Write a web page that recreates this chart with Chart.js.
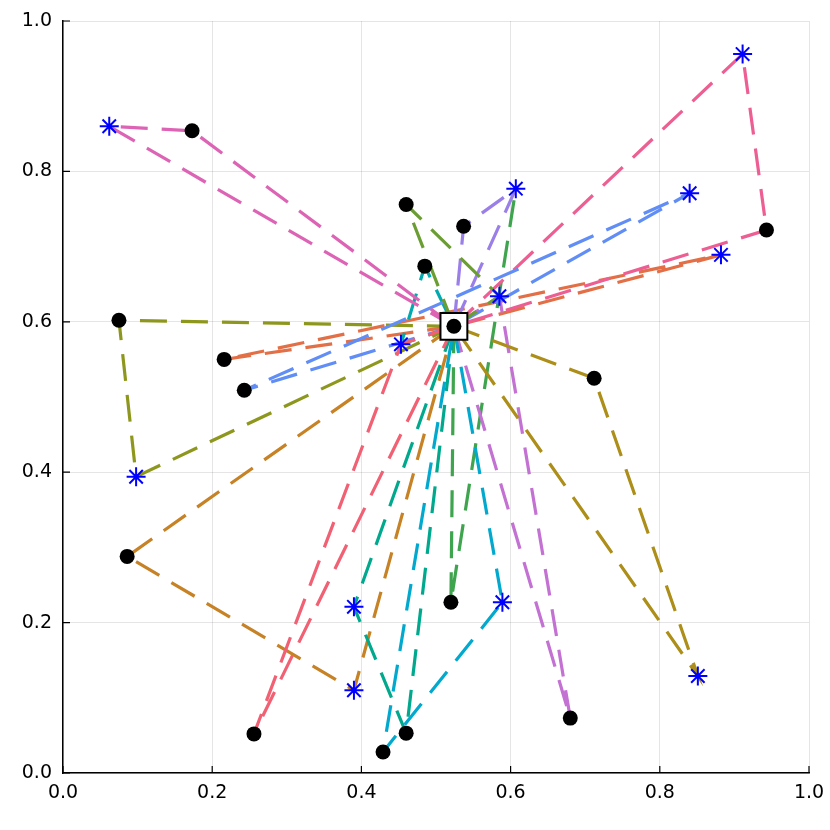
<!DOCTYPE html>
<html>
<head>
<meta charset="utf-8">
<script src="https://cdn.jsdelivr.net/npm/chart.js"></script>
<style>
    html, body { margin:0; padding:0; background:#fff; }
    canvas { display:block; }
</style>
</head>
<body>
<canvas id="routeChart" width="830" height="830"></canvas>
<script>
// depot (white square)
var depotX = [0.524];
var depotY = [0.594];

// customers (black dots)
var custX = [0.173, 0.075, 0.216, 0.243, 0.086, 0.256, 0.429, 0.460, 0.520, 0.680, 0.712, 0.943, 0.537, 0.460, 0.485];
var custY = [0.854, 0.602, 0.550, 0.509, 0.288, 0.052, 0.028, 0.053, 0.227, 0.073, 0.525, 0.722, 0.727, 0.756, 0.674];

// stations (blue stars)
var stationX = [0.062, 0.098, 0.390, 0.390, 0.453, 0.589, 0.851, 0.882, 0.911, 0.840, 0.607, 0.585];
var stationY = [0.860, 0.394, 0.110, 0.221, 0.570, 0.227, 0.129, 0.689, 0.956, 0.771, 0.777, 0.634];

// routes: D = depot, Cn = customer n, Sn = station n
var routes = [
    ['D', 'C2', 'S7', 'D'],
    ['D', 'C8', 'S10'],
    ['D', 'C9', 'S11', 'D'],
    ['D', 'C10', 'S6', 'D'],
    ['D', 'S4', 'C14', 'D'],
    ['D', 'S8', 'C11', 'D'],
    ['D', 'C4', 'S2', 'D'],
    ['D', 'S3', 'C7', 'D'],
    ['D', 'C1', 'S1', 'D'],
    ['D', 'S5', 'C6', 'D'],
    ['D', 'C12', 'S10', 'D'],
    ['D', 'C3', 'S9', 'D'],
    ['D', 'S4', 'C5', 'D'],
    ['D', 'S0', 'C0', 'D'],
    ['D', 'S11', 'C13', 'D']
];
var routeColors = ['#E36F47', '#3EA44E', '#C371D2', '#AC8E18', '#00AAAE', '#ED5E93', '#C68225', '#00A98D',
                   '#8E971D', '#00A9CD', '#9B7FE9', '#618DF6', '#F16073', '#DD64B5', '#6B9E32'];

var tickValues = [0, 0.2, 0.4, 0.6, 0.8, 1.0];

function stop(name) {
    if (name == 'D') return {x: depotX[0], y: depotY[0]};
    var i = parseInt(name.substring(1));
    if (name[0] == 'C') return {x: custX[i], y: custY[i]};
    return {x: stationX[i], y: stationY[i]};
}

function xy(xs, ys) {
    var out = [];
    for (let i = 0; i < xs.length; i++) out.push({x: xs[i], y: ys[i]});
    return out;
}

var datasets = [];
for (let i = 0; i < routes.length; i++) {
    datasets.push({
        data: routes[i].map(stop),
        showLine: true,
        borderColor: routeColors[i],
        borderWidth: 3.2,
        borderDash: [27, 14],
        pointRadius: 0,
        fill: false,
        order: 100 - i
    });
}
datasets.push({
    data: xy(custX, custY),
    pointRadius: 7.5,
    pointBackgroundColor: '#000',
    pointBorderColor: '#000',
    pointBorderWidth: 0,
    order: 3
});
datasets.push({
    data: xy(stationX, stationY),
    pointStyle: 'star',
    pointRadius: 9.5,
    pointBorderColor: '#0000ff',
    pointBorderWidth: 2,
    order: 2
});
datasets.push({
    data: xy(depotX, depotY),
    pointStyle: 'rect',
    pointRadius: 19,
    pointBackgroundColor: '#fff',
    pointBorderColor: '#000',
    pointBorderWidth: 2,
    order: 1
});
datasets.push({
    data: xy(depotX, depotY),
    pointRadius: 7.5,
    pointBackgroundColor: '#000',
    pointBorderColor: '#000',
    pointBorderWidth: 0,
    order: 0
});

// small inward tick marks like the original
var inwardTicks = {
    id: 'inwardTicks',
    afterDraw: function(chart) {
        var ctx = chart.ctx, a = chart.chartArea;
        var sx = chart.scales.x, sy = chart.scales.y;
        ctx.save();
        ctx.strokeStyle = '#000';
        ctx.lineWidth = 1.2;
        ctx.beginPath();
        tickValues.forEach(function(v) {
            var px = sx.getPixelForValue(v);
            ctx.moveTo(px, a.bottom);
            ctx.lineTo(px, a.bottom - 7);
            var py = sy.getPixelForValue(v);
            ctx.moveTo(a.left, py);
            ctx.lineTo(a.left + 7, py);
        });
        ctx.stroke();
        ctx.restore();
    }
};

Chart.defaults.font.family = 'DejaVu Sans';
Chart.defaults.color = '#000';

function axis(fit) {
    return {
        type: 'linear',
        min: 0,
        max: 1,
        afterBuildTicks: function(s) {
            s.ticks = tickValues.map(function(v) { return {value: v}; });
        },
        afterFit: function(s) {
            fit(s);
            // let layout.padding alone decide the margins
            s.paddingLeft = 0;
            s.paddingRight = 0;
            s.paddingTop = 0;
            s.paddingBottom = 0;
        },
        ticks: {
            font: {size: 19},
            color: '#000',
            maxRotation: 0,
            callback: function(v) { return v.toFixed(1); }
        },
        grid: {color: 'rgba(0,0,0,0.1)', lineWidth: 1, drawTicks: false},
        border: {color: '#000', width: 1.5}
    };
}

var xAxis = axis(function(s) { s.height = 57; });
xAxis.ticks.padding = 9;
var yAxis = axis(function(s) { s.width = 63; });
yAxis.ticks.padding = 11;

var routeChart = new Chart(document.getElementById('routeChart'), {
    type: 'scatter',
    data: {datasets: datasets},
    options: {
        responsive: false,
        animation: false,
        events: [],
        layout: {padding: {top: 19, right: 20, left: 0, bottom: 0}},
        plugins: {legend: {display: false}, tooltip: {enabled: false}},
        scales: {x: xAxis, y: yAxis}
    },
    plugins: [inwardTicks]
});
</script>
</body>
</html>
